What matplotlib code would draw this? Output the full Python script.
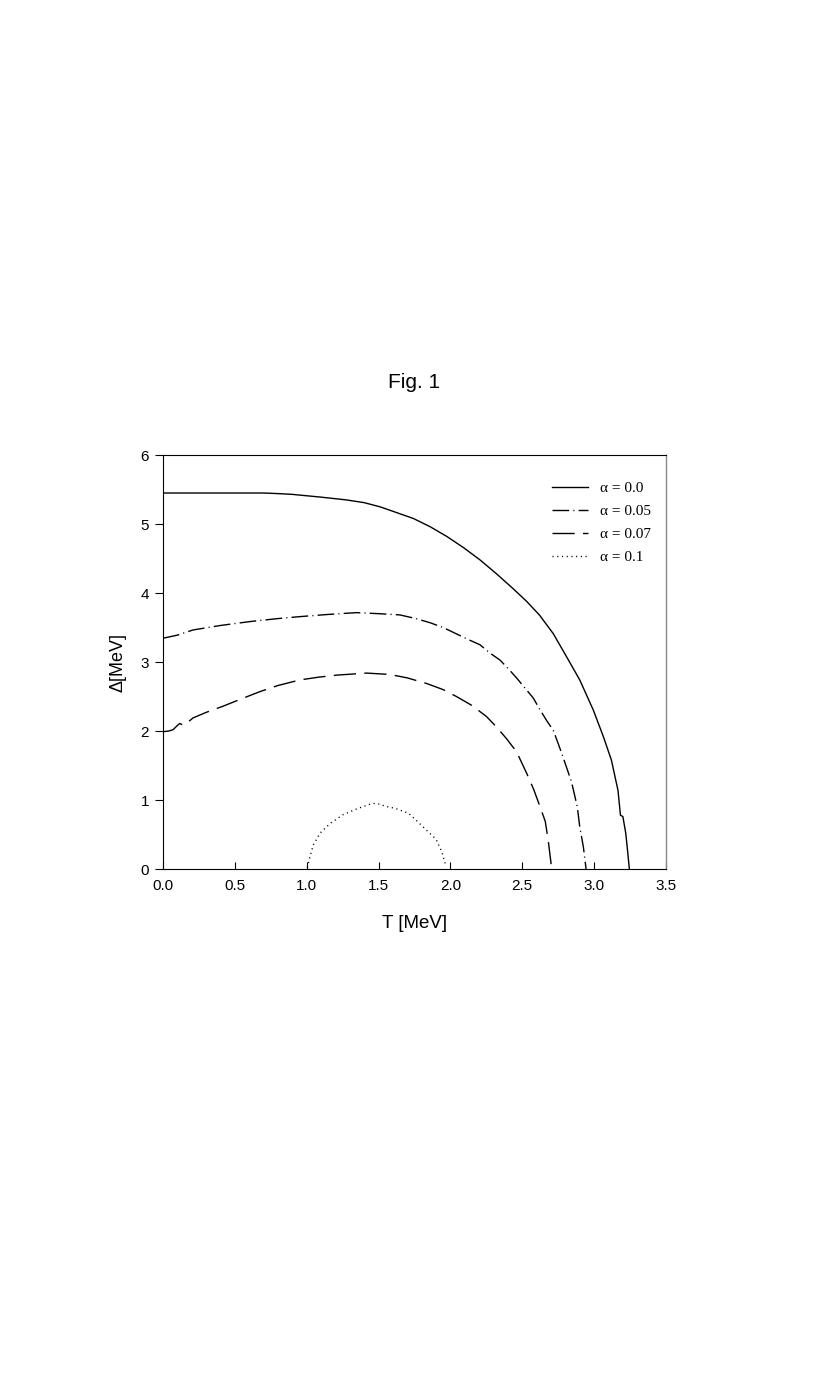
import matplotlib
matplotlib.use("Agg")
import matplotlib.pyplot as plt

# alpha = 0.0
t_a0 = [0.0, 0.4, 0.7, 0.814, 0.9, 1.0, 1.1, 1.276, 1.4, 1.51, 1.62, 1.743, 1.86, 1.975,
        2.09, 2.206, 2.32, 2.438, 2.53, 2.62, 2.716, 2.81, 2.90, 2.995, 3.064, 3.12,
        3.166, 3.183, 3.20, 3.22, 3.23, 3.245]
d_a0 = [5.45, 5.45, 5.45, 5.44, 5.43, 5.41, 5.39, 5.35, 5.31, 5.25, 5.17, 5.08, 4.96, 4.82,
        4.66, 4.48, 4.28, 4.06, 3.88, 3.68, 3.41, 3.07, 2.74, 2.30, 1.92, 1.58,
        1.14, 0.78, 0.76, 0.52, 0.32, 0.0]

# alpha = 0.05
t_a05 = [0.0, 0.1, 0.209, 0.4, 0.603, 0.8, 0.951, 1.15, 1.346, 1.51, 1.648, 1.76, 1.858,
         1.95, 2.04, 2.12, 2.206, 2.275, 2.344, 2.40, 2.46, 2.52, 2.576, 2.62, 2.67, 2.716,
         2.774, 2.843, 2.883, 2.90, 2.925, 2.944]
d_a05 = [3.345, 3.39, 3.465, 3.53, 3.586, 3.63, 3.658, 3.69, 3.716, 3.70, 3.683, 3.63, 3.57,
         3.50, 3.41, 3.33, 3.25, 3.13, 3.03, 2.91, 2.77, 2.62, 2.48, 2.32, 2.15, 2.01,
         1.68, 1.26, 0.90, 0.61, 0.32, 0.0]

# alpha = 0.07
t_a07 = [0.0, 0.04, 0.07, 0.1, 0.116, 0.135, 0.151, 0.209, 0.3, 0.418, 0.55, 0.673, 0.8,
         0.951, 1.08, 1.207, 1.416, 1.578, 1.70, 1.833, 1.95, 2.042, 2.15, 2.251, 2.32,
         2.39, 2.46, 2.53, 2.58, 2.624, 2.66, 2.68, 2.705]
d_a07 = [1.99, 2.0, 2.02, 2.08, 2.11, 2.09, 2.09, 2.19, 2.27, 2.36, 2.47, 2.57, 2.66,
         2.74, 2.78, 2.81, 2.84, 2.82, 2.77, 2.69, 2.60, 2.50, 2.37, 2.21, 2.06,
         1.89, 1.70, 1.39, 1.15, 0.90, 0.69, 0.42, 0.0]

# alpha = 0.1
t_a1 = [1.004, 1.023, 1.046, 1.093, 1.162, 1.255, 1.347, 1.44, 1.468, 1.51, 1.545, 1.614,
        1.707, 1.76, 1.835, 1.90, 1.94, 1.966]
d_a1 = [0.02, 0.18, 0.35, 0.52, 0.66, 0.79, 0.87, 0.94, 0.95, 0.94, 0.91, 0.88,
        0.81, 0.71, 0.56, 0.43, 0.25, 0.06]

labels = ["α = 0.0", "α = 0.05", "α = 0.07", "α = 0.1"]
x_ticks = [0.0, 0.5, 1.0, 1.5, 2.0, 2.5, 3.0, 3.5]
y_ticks = [0, 1, 2, 3, 4, 5, 6]

sans = ["Liberation Sans Narrow", "Liberation Sans", "DejaVu Sans"]
serif = ["Liberation Serif", "DejaVu Serif"]

fig = plt.figure(figsize=(8.3, 13.84), dpi=100)
ax = fig.add_axes([0.1964, 0.3721, 0.6060, 0.2991])

lw = 1.0
ax.plot(t_a0, d_a0, color="black", lw=lw, label=labels[0])
ax.plot(t_a05, d_a05, color="black", lw=lw, dashes=(12, 3, 0.8, 3), label=labels[1])
ax.plot(t_a07, d_a07, color="black", lw=lw, dashes=(16, 6), label=labels[2])
ax.plot(t_a1, d_a1, color="black", lw=lw, dashes=(0.8, 2.6), label=labels[3])

ax.set_xlim(0, 3.5)
ax.set_ylim(0, 6)
ax.set_xticks(x_ticks)
ax.set_xticklabels([f"{v:.1f}" for v in x_ticks], family=sans, fontsize=11)
ax.set_yticks(y_ticks)
ax.set_yticklabels([str(v) for v in y_ticks], family=sans, fontsize=11)
ax.tick_params(axis="x", direction="in", length=5, width=0.8, pad=7)
ax.tick_params(axis="y", direction="out", length=6, width=0.8, pad=4)
for side in ["left", "bottom", "top"]:
    ax.spines[side].set_linewidth(0.8)
ax.spines["right"].set_color("#888888")
ax.spines["right"].set_linewidth(1.0)

ax.set_xlabel("T [MeV]", family=sans, fontsize=13.5, labelpad=16)
ax.set_ylabel("Δ[MeV]", family=sans, fontsize=13, labelpad=10)

ax.legend(loc="upper left", bbox_to_anchor=(0.747, 0.97), frameon=False,
          handlelength=2.3, handletextpad=0.8, labelspacing=0.62,
          prop={"family": serif, "size": 11})

fig.text(0.4988, 0.7233, "Fig. 1", ha="center", va="center", family=sans, fontsize=15)

fig.savefig("out.png", dpi=100)
